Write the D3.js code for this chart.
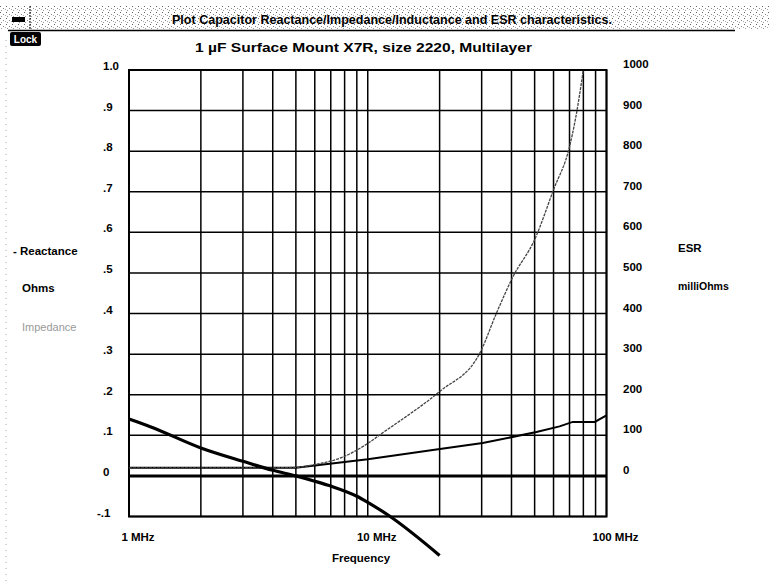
<!DOCTYPE html>
<html><head><meta charset="utf-8">
<script src="https://cdn.jsdelivr.net/npm/d3@7"></script>
<style>
body{margin:0;background:#fff;}
svg text{font-family:"Liberation Sans","Arial",sans-serif;font-weight:bold;fill:#000;}
</style></head>
<body><svg id="c" width="769" height="581"></svg>
<script>
// ---- data ----
const xTickValues = [1, 10, 100];
const xTickLabels = ["1 MHz", "10 MHz", "100 MHz"];
const leftTickValues = [1.0, 0.9, 0.8, 0.7, 0.6, 0.5, 0.4, 0.3, 0.2, 0.1, 0, -0.1];
const leftTickLabels = ["1.0", ".9", ".8", ".7", ".6", ".5", ".4", ".3", ".2", ".1", "0", "-.1"];
const rightTickValues = [1000, 900, 800, 700, 600, 500, 400, 300, 200, 100, 0];
const rightTickLabels = ["1000", "900", "800", "700", "600", "500", "400", "300", "200", "100", "0"];
const gridFreqs = [1,2,3,4,5,6,7,8,9,10,20,30,40,50,60,70,80,90,100];

const reactFreq = [1, 1.22, 2, 3, 4, 5, 6, 7, 9, 10, 12.2, 20];
const reactance = [0.14, 0.122, 0.069, 0.036, 0.014, 0, -0.013, -0.025, -0.05, -0.065, -0.097, -0.196];

const impFreq = [1, 2, 3, 4, 5, 6, 7.9, 10, 11.6, 13.6, 20, 29.5, 34.6, 40.6, 50, 60, 70, 74, 80];
const impedance = [0.02, 0.02, 0.02, 0.02, 0.021, 0.028, 0.047, 0.08, 0.107, 0.135, 0.208, 0.303, 0.401, 0.491, 0.582, 0.705, 0.811, 0.877, 1.0];

const esrFreq = [1, 2, 3, 4, 5, 10, 20.4, 30.3, 50.9, 63.6, 72.2, 89.3, 100];
const esr = [20, 20, 20, 20, 20, 41, 67, 81, 108, 122, 133, 133, 149];

// ---- layout ----
const svg = d3.select("#c");
const L = 129, R = 606.5, T = 70, B = 516.5;
const x = d3.scaleLog().domain([1, 100]).range([L, R]);
const yL = d3.scaleLinear().domain([-0.1, 1.0]).range([B, T]);
const yR = d3.scaleLinear().domain([-100, 1000]).range([B, T]);

// title bar dither
const defs = svg.append("defs");
const pat = defs.append("pattern").attr("id","dith").attr("width",6).attr("height",6).attr("patternUnits","userSpaceOnUse");
pat.append("rect").attr("width",6).attr("height",6).attr("fill","#fff");
pat.append("rect").attr("x",0).attr("y",0).attr("width",1).attr("height",1).attr("fill","#666");
pat.append("rect").attr("x",3).attr("y",2).attr("width",1).attr("height",1).attr("fill","#888");
pat.append("rect").attr("x",1).attr("y",4).attr("width",1).attr("height",1).attr("fill","#999");
pat.append("rect").attr("x",5).attr("y",3).attr("width",1).attr("height",1).attr("fill","#aaa");
svg.append("rect").attr("x",0).attr("y",5).attr("width",769).attr("height",25).attr("fill","url(#dith)");
svg.append("line").attr("x1",8).attr("x2",735).attr("y1",30.5).attr("y2",30.5).attr("stroke","#000").attr("stroke-width",1.5);
svg.append("rect").attr("x",12).attr("y",17).attr("width",13).attr("height",5).attr("fill","#000");
svg.append("line").attr("x1",30).attr("x2",30).attr("y1",6).attr("y2",30).attr("stroke","#000").attr("stroke-width",1).attr("stroke-dasharray","2,1");
svg.append("text").attr("x",392).attr("y",24).attr("text-anchor","middle").attr("font-size",13)
  .attr("textLength",440).attr("lengthAdjust","spacingAndGlyphs")
  .text("Plot Capacitor Reactance/Impedance/Inductance and ESR characteristics.");

// Lock button
svg.append("rect").attr("x",10).attr("y",32).attr("width",31).attr("height",14).attr("rx",2).attr("fill","#000");
svg.append("text").attr("x",25.5).attr("y",43).attr("text-anchor","middle").attr("font-size",10).style("fill","#fff").text("Lock");

// left window edge speckle
svg.append("line").attr("x1",6).attr("x2",6).attr("y1",40).attr("y2",581).attr("stroke","#aaa").attr("stroke-dasharray","1,5");

// subtitle
svg.append("text").attr("x",195).attr("y",52).attr("font-size",12)
  .attr("textLength",337).attr("lengthAdjust","spacingAndGlyphs")
  .text("1 µF Surface Mount X7R, size 2220, Multilayer");

// grid
const g = svg.append("g");
g.selectAll("line.v").data(gridFreqs).join("line").attr("class","v")
  .attr("x1",d=>x(d)).attr("x2",d=>x(d)).attr("y1",T).attr("y2",B)
  .attr("stroke","#000").attr("stroke-width",1.5);
g.selectAll("line.h").data(leftTickValues).join("line").attr("class","h")
  .attr("x1",L).attr("x2",R).attr("y1",d=>yL(d)).attr("y2",d=>yL(d))
  .attr("stroke","#000").attr("stroke-width",1.5);
// zero line heavy
g.append("line").attr("x1",L).attr("x2",R).attr("y1",yL(0)).attr("y2",yL(0)).attr("stroke","#000").attr("stroke-width",3);
// frame
g.append("rect").attr("x",L).attr("y",T).attr("width",R-L).attr("height",B-T).attr("fill","none").attr("stroke","#000").attr("stroke-width",2);

// tick labels
svg.selectAll("text.lt").data(leftTickValues).join("text").attr("class","lt")
  .attr("x",d=>d<0?97:103).attr("y",d=>yL(d)-4).attr("dy","0.35em").attr("font-size",11.5)
  .text((d,i)=>leftTickLabels[i]);
svg.selectAll("text.rt").data(rightTickValues).join("text").attr("class","rt")
  .attr("x",623).attr("y",d=>yR(d)-6).attr("dy","0.35em").attr("font-size",11.5)
  .text((d,i)=>rightTickLabels[i]);
svg.selectAll("text.xt").data(xTickValues).join("text").attr("class","xt")
  .attr("x",d=>x(d)+9).attr("y",537).attr("dy","0.35em").attr("text-anchor","middle").attr("font-size",11.5)
  .text((d,i)=>xTickLabels[i]);
svg.append("text").attr("x",361).attr("y",558).attr("dy","0.35em").attr("text-anchor","middle").attr("font-size",11.5).text("Frequency");

// legend / axis titles
svg.append("text").attr("x",13).attr("y",251).attr("dy","0.35em").attr("font-size",11.5).text("- Reactance");
svg.append("text").attr("x",22).attr("y",288).attr("dy","0.35em").attr("font-size",11.5).text("Ohms");
svg.append("text").attr("x",22).attr("y",327).attr("dy","0.35em").attr("font-size",11).style("font-weight","normal").style("fill","#999").text("Impedance");
svg.append("text").attr("x",678).attr("y",248).attr("dy","0.35em").attr("font-size",11.5).text("ESR");
svg.append("text").attr("x",678).attr("y",286).attr("dy","0.35em").attr("font-size",10.5).text("milliOhms");

// curves
const lineL = d3.line().x(d=>x(d[0])).y(d=>yL(d[1])).curve(d3.curveMonotoneX);
const lineR = d3.line().x(d=>x(d[0])).y(d=>yR(d[1]));
svg.append("path").datum(esrFreq.map((f,i)=>[f,esr[i]])).attr("d",lineR)
  .attr("fill","none").attr("stroke","#000").attr("stroke-width",2);
svg.append("path").datum(impFreq.map((f,i)=>[f,impedance[i]])).attr("d",lineL)
  .attr("fill","none").attr("stroke","#444").attr("stroke-width",1.3).attr("stroke-dasharray","3,1");
svg.append("path").datum(reactFreq.map((f,i)=>[f,reactance[i]])).attr("d",lineL)
  .attr("fill","none").attr("stroke","#000").attr("stroke-width",3.2);
</script></body></html>
